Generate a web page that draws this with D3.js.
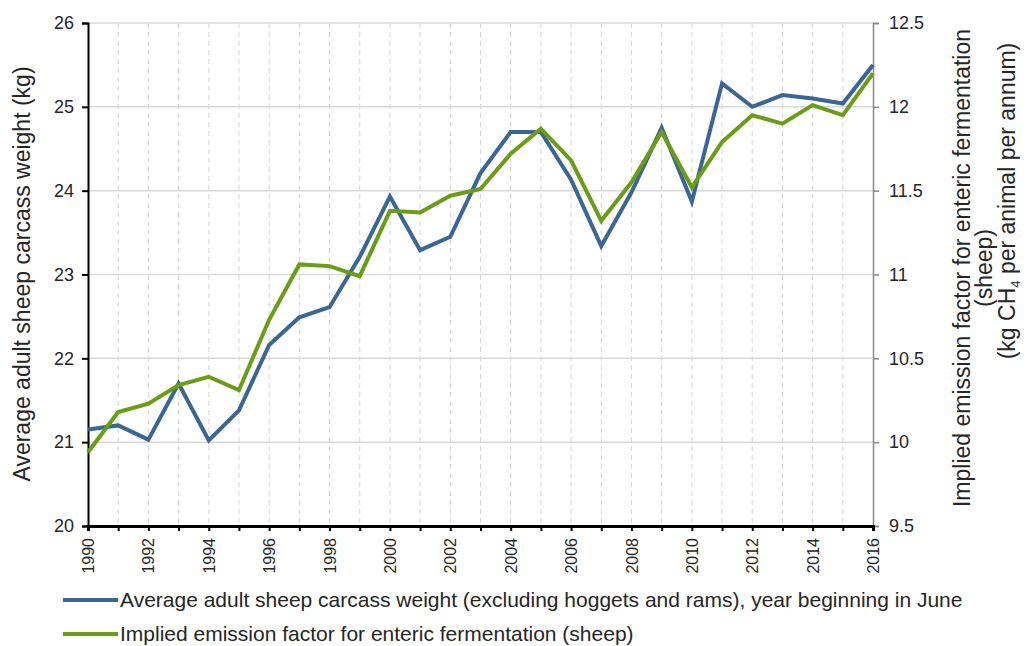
<!DOCTYPE html>
<html>
<head>
<meta charset="utf-8">
<script src="https://d3js.org/d3.v7.min.js"></script>
<style>
  body, html { margin: 0; padding: 0; background: #fff; }
  svg text { font-family: "Liberation Sans", Arial, sans-serif; fill: #262626; }
</style>
</head>
<body>
<div id="chart"></div>
<script>
var years = d3.range(1990, 2017);
var carcassWeight = [21.15, 21.20, 21.03, 21.70, 21.02, 21.38, 22.16, 22.49, 22.61, 23.21,
  23.93, 23.29, 23.45, 24.21, 24.70, 24.70, 24.13, 23.34, 23.98, 24.75,
  23.87, 25.28, 25.00, 25.14, 25.10, 25.04, 25.50];
var emissionFactor = [9.94, 10.18, 10.23, 10.34, 10.39, 10.31, 10.73, 11.06, 11.05, 10.99,
  11.38, 11.37, 11.47, 11.51, 11.72, 11.87, 11.68, 11.32, 11.55, 11.85,
  11.52, 11.79, 11.95, 11.90, 12.01, 11.95, 12.20];
var leftTicks = [20, 21, 22, 23, 24, 25, 26];
var rightTicks = [9.5, 10, 10.5, 11, 11.5, 12, 12.5];
var legendLabels = [
  "Average adult sheep carcass weight (excluding hoggets and rams), year beginning in June",
  "Implied emission factor for enteric fermentation (sheep)"
];

var W = 1027, H = 646;
var m = { left: 88, right: 873, top: 23, bottom: 526 };
var blue = "#3b6593", green = "#6a9c16";

var svg = d3.select("#chart").append("svg").attr("width", W).attr("height", H);

var x = d3.scaleLinear().domain([1990, 2016]).range([m.left, m.right]);
var yL = d3.scaleLinear().domain([20, 26]).range([m.bottom, m.top]);
var yR = d3.scaleLinear().domain([9.5, 12.5]).range([m.bottom, m.top]);

// vertical dashed grid
svg.append("g").selectAll("line").data(years.slice(1, -1)).join("line")
  .attr("x1", d => x(d)).attr("x2", d => x(d))
  .attr("y1", m.top).attr("y2", m.bottom)
  .attr("stroke", "#d6d6d6").attr("stroke-dasharray", "5,4");

// horizontal grid
svg.append("g").selectAll("line").data(leftTicks.slice(1)).join("line")
  .attr("x1", m.left).attr("x2", m.right)
  .attr("y1", d => yL(d)).attr("y2", d => yL(d))
  .attr("stroke", "#d9d9d9").attr("stroke-width", 1.5);

// left axis
var ax = svg.append("g").attr("transform", "translate(" + m.left + ",0)")
  .call(d3.axisLeft(yL).tickValues(leftTicks).tickSize(6).tickPadding(8).tickFormat(d3.format("d")));
ax.select(".domain").attr("stroke", "#000").attr("stroke-width", 2);
ax.selectAll(".tick line").attr("stroke", "#000").attr("stroke-width", 2);
ax.selectAll("text").style("font-size", "18px").attr("fill", "#333");

// right axis
var ar = svg.append("g").attr("transform", "translate(" + m.right + ",0)")
  .call(d3.axisRight(yR).tickValues(rightTicks).tickSize(6).tickPadding(10).tickFormat(d => d));
ar.select(".domain").attr("stroke", "#888").attr("stroke-width", 1.5);
ar.selectAll(".tick line").attr("stroke", "#888").attr("stroke-width", 1.5);
ar.selectAll("text").style("font-size", "18px").attr("fill", "#333");

// bottom axis
var ab = svg.append("g").attr("transform", "translate(0," + m.bottom + ")")
  .call(d3.axisBottom(x).tickValues(years).tickSize(5).tickFormat(d => d % 2 === 0 ? d : ""));
ab.select(".domain").attr("stroke", "#000").attr("stroke-width", 3);
ab.selectAll(".tick line").attr("stroke", "#000").attr("stroke-width", 2);
ab.selectAll("text").style("font-size", "16px").attr("fill", "#333")
  .attr("transform", "rotate(-90)").attr("text-anchor", "end")
  .attr("x", -12).attr("y", 0).attr("dy", "0.35em");

// lines
var lineL = d3.line().x((d, i) => x(years[i])).y(d => yL(d));
var lineR = d3.line().x((d, i) => x(years[i])).y(d => yR(d));
svg.append("path").datum(carcassWeight).attr("d", lineL)
  .attr("fill", "none").attr("stroke", blue).attr("stroke-width", 4).attr("stroke-linejoin", "miter");
svg.append("path").datum(emissionFactor).attr("d", lineR)
  .attr("fill", "none").attr("stroke", green).attr("stroke-width", 4).attr("stroke-linejoin", "miter");

// axis titles
svg.append("text").attr("transform", "translate(30,274) rotate(-90)")
  .attr("text-anchor", "middle").style("font-size", "23px")
  .text("Average adult sheep carcass weight (kg)");

var rt = svg.append("g").attr("transform", "translate(970,0) rotate(-90)");
rt.append("text").attr("text-anchor", "middle").attr("x", -268).attr("y", 0).style("font-size", "23px")
  .text("Implied emission factor for enteric fermentation");
rt.append("text").attr("text-anchor", "middle").attr("x", -268).attr("y", 22).style("font-size", "23px")
  .text("(sheep)");
var t3 = rt.append("text").attr("text-anchor", "middle").attr("x", -201).attr("y", 45).style("font-size", "23px");
t3.append("tspan").text("(kg CH");
t3.append("tspan").attr("dy", 5).style("font-size", "13px").text("4");
t3.append("tspan").attr("dy", -5).text(" per animal per annum)");

// legend
var lg = svg.append("g").selectAll("g").data(legendLabels).join("g")
  .attr("transform", (d, i) => "translate(63," + (600 + i * 34) + ")");
lg.append("line").attr("x1", 0).attr("x2", 55).attr("y1", 0).attr("y2", 0)
  .attr("stroke", (d, i) => i === 0 ? blue : green).attr("stroke-width", 4);
lg.append("text").attr("x", 57).attr("dy", "0.35em")
  .style("font-size", "21px").attr("fill", "#333")
  .text(d => d);
</script>
</body>
</html>
